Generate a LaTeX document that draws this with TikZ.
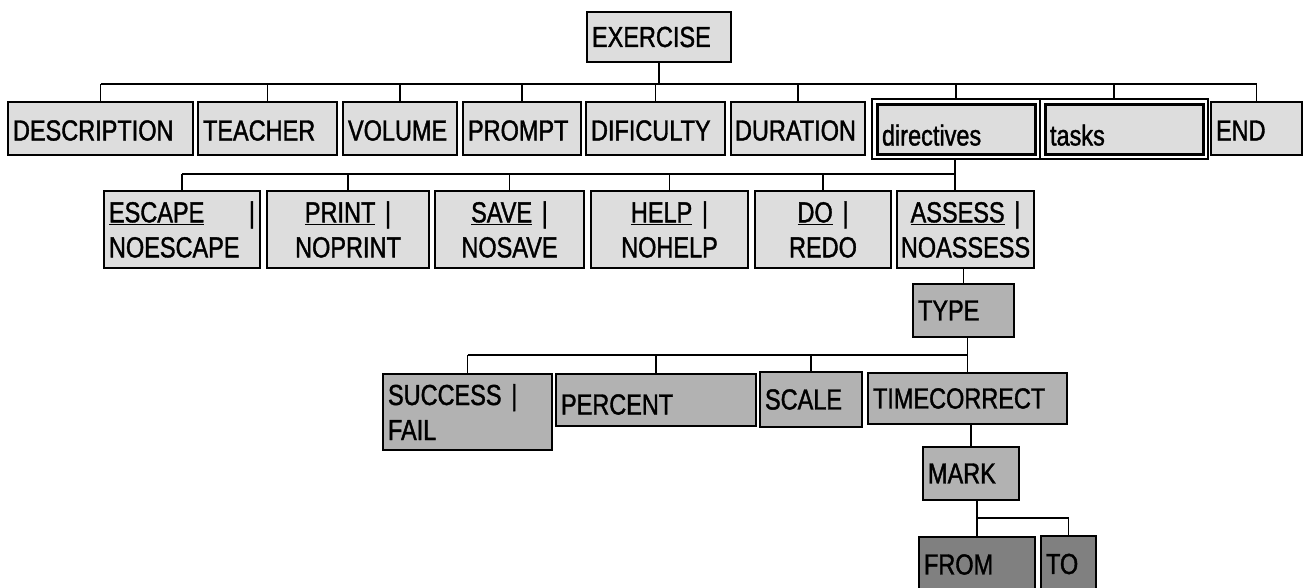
\documentclass[tikz,border=0pt]{standalone}
\usepackage{fontspec}
\setmainfont{Liberation Sans}[FakeStretch=0.81,FakeBold=1.3]
\usetikzlibrary{calc}
\definecolor{lg}{HTML}{DDDDDD}
\definecolor{mg}{HTML}{B2B2B2}
\definecolor{dg}{HTML}{808080}
\tikzset{
  bx/.style={draw=black, line width=1.8pt, anchor=north west, inner xsep=5pt, inner ysep=0pt,
    outer sep=0pt, font=\fontsize{29pt}{35pt}\selectfont, align=left, text=black},
  lt/.style={fill=lg}, md/.style={fill=mg}, dk/.style={fill=dg},
  onel/.style={text height=24pt, text depth=0pt},
  outerbx/.style={draw=black, line width=1.2pt, fill=white, anchor=north west, inner sep=0pt, outer sep=0pt},
  conn/.style={line width=1.8pt, draw=black},
}
\newcommand\mybox[7]{\node[bx,minimum width={#4-#2},minimum height={#5-#3},text width={#4-#2-10},#6] (#1) at (#2,#3) {#7};}
\begin{document}
\begin{tikzpicture}[x=1pt,y=-1pt]
\path[use as bounding box, fill=white] (0,0) rectangle (1303,587);
% top
\mybox{ex}{587}{12}{731}{62}{lt}{EXERCISE}
% row 1
\mybox{desc}{8}{102}{193}{155}{lt,onel}{DESCRIPTION}
\mybox{teach}{198}{102}{337}{155}{lt,onel}{TEACHER}
\mybox{vol}{343}{102}{457}{155}{lt,onel}{VOLUME}
\mybox{prompt}{463}{102}{581}{155}{lt,onel}{PROMPT}
\mybox{dific}{586}{102}{725}{155}{lt,onel}{DIFICULTY}
\mybox{dur}{731}{102}{863}{155}{lt,onel,inner xsep=4pt,text width=126}{DURATION}
\node[outerbx, minimum width=168, minimum height=60] (dirO) at (872,99) {};
\node[outerbx, minimum width=168, minimum height=60] (tasksO) at (1040,99) {};
\mybox{dir}{877}{104}{1035}{154}{lt,line width=3pt,text height=33pt,text depth=0pt}{directives}
\mybox{tasks}{1045}{104}{1203}{154}{lt,line width=3pt,text height=33pt,text depth=0pt}{tasks}
\mybox{end}{1211}{102}{1302}{155}{lt,onel}{END}
% row 2
\mybox{esc}{104}{191}{260}{268}{lt}{\underline{ESCAPE}\hfill|\\NOESCAPE}
\mybox{print}{267}{191}{429}{268}{lt,align=center}{\underline{PRINT} |\\NOPRINT}
\mybox{save}{435}{191}{584}{268}{lt,align=center}{\underline{SAVE} |\\NOSAVE}
\mybox{help}{591}{191}{748}{268}{lt,align=center}{\underline{HELP} |\\NOHELP}
\mybox{do}{755}{191}{891}{268}{lt,align=center}{\underline{DO} |\\REDO}
\mybox{assess}{897}{191}{1034}{268}{lt,align=center,inner xsep=1pt,text width=135}{\underline{ASSESS} |\\NOASSESS}
% type
\mybox{type}{913}{284}{1014}{337}{md}{TYPE}
% row 3
\mybox{succ}{383}{374}{552}{450}{md}{SUCCESS |\\FAIL}
\mybox{perc}{556}{374}{756}{426}{md,text height=29pt,text depth=0pt}{PERCENT}
\mybox{scale}{760}{372}{862}{427}{md}{SCALE}
\mybox{timec}{868}{373}{1067}{424}{md}{TIMECORRECT}
% mark
\mybox{mark}{923}{447}{1019}{500}{md}{MARK}
\mybox{from}{919}{537}{1035}{592}{dk}{FROM}
\mybox{to}{1041}{536}{1096}{592}{dk}{TO}
% connectors level 1
\coordinate (b1) at (0,84);
\draw[conn] (ex.south) -- (ex.south |- b1);
\draw[conn] (desc.north |- b1) -- (end.north |- b1);
\foreach \n in {desc,teach,vol,prompt,dific,dur,dirO,end}{\draw[conn] (\n.north |- b1) -- (\n.north);}
\draw[conn] ([xshift=-10pt]tasksO.north |- b1) -- ([xshift=-10pt]tasksO.north);
% level 2
\coordinate (b2) at (0,174);
\draw[conn] ([xshift=-1pt]dirO.south) -- ([xshift=-1pt]dirO.south |- assess.north);
\draw[conn] (esc.north |- b2) -- ([xshift=-1pt]dirO.south |- b2);
\foreach \n in {esc,print,save,help,do}{\draw[conn] (\n.north |- b2) -- (\n.north);}
% assess -> type
\draw[conn] (assess.south -| type.north) -- (type.north);
% type -> row 3
\coordinate (b3) at (0,355);
\draw[conn] (timec.north |- type.south) -- (timec.north |- b3);
\draw[conn] (succ.north |- b3) -- (timec.north |- b3);
\foreach \n in {succ,perc,scale,timec}{\draw[conn] (\n.north |- b3) -- (\n.north);}
% timec -> mark
\draw[conn] (timec.south -| mark.north) -- (mark.north);
% mark -> from/to
\coordinate (b4) at (0,518);
\draw[conn] (mark.south -| from.north) -- (from.north);
\draw[conn] (from.north |- b4) -- (to.north |- b4) -- (to.north);
\end{tikzpicture}
\end{document}
